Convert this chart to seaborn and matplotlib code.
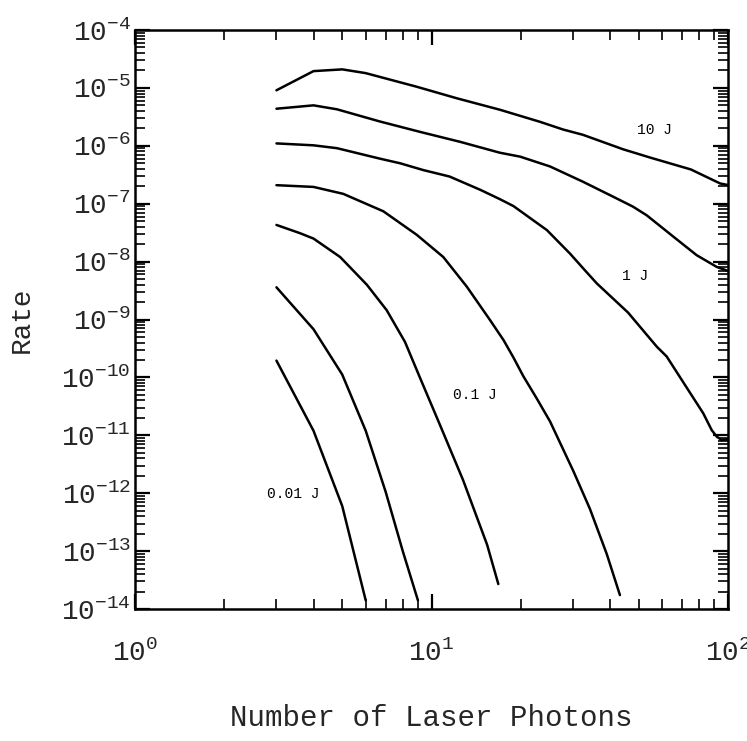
import pandas as pd
import numpy as np
import seaborn as sns
import matplotlib.pyplot as plt
from matplotlib.ticker import LogLocator, LogFormatterMathtext, NullFormatter

# curves, top to bottom (x = number of laser photons, y = rate)
x_c1 = [3, 4, 5, 6, 8.9, 12.2, 17, 23.2, 27.8, 32.4, 44.3, 55, 75, 94, 100]
y_c1 = [9.1e-6, 1.95e-5, 2.09e-5, 1.80e-5, 1.05e-5, 6.6e-6, 4.2e-6, 2.6e-6, 1.91e-6,
        1.55e-6, 8.7e-7, 6.2e-7, 3.9e-7, 2.24e-7, 2.1e-7]

x_c2 = [3, 4, 4.8, 6.7, 9.15, 12.5, 17, 19.9, 25.1, 32.4, 41, 47.8, 53.2, 65.4, 78.4, 91.6, 100]
y_c2 = [4.37e-6, 5.0e-6, 4.27e-6, 2.63e-6, 1.74e-6, 1.17e-6, 7.6e-7, 6.5e-7, 4.4e-7, 2.4e-7,
        1.32e-7, 8.9e-8, 6.3e-8, 2.7e-8, 1.29e-8, 8.1e-9, 6.9e-9]

x_c3 = [3, 4, 4.8, 6.7, 7.83, 9.4, 11.5, 14.6, 17, 18.9, 22, 24.5, 29.3, 32.9, 36.1, 46,
        57.5, 62.1, 74.5, 82.5, 88.1, 91.6, 95.2, 100]
y_c3 = [1.10e-6, 1.02e-6, 9.1e-7, 6.0e-7, 5.0e-7, 3.8e-7, 2.95e-7, 1.74e-7, 1.20e-7, 9.1e-8,
        5.2e-8, 3.5e-8, 1.38e-8, 7.1e-9, 4.2e-9, 1.32e-9, 3.4e-10, 2.3e-10, 5.4e-11, 2.4e-11,
        1.23e-11, 9.5e-12, 8.3e-12, 8.5e-12]

x_c4 = [3, 4, 5.04, 6.88, 8.92, 10.96, 13.15, 15.75, 17.5, 18.9, 20.4, 22.6, 25.1, 30.1, 34.2, 39, 43.2]
y_c4 = [2.09e-7, 1.95e-7, 1.48e-7, 7.4e-8, 2.9e-8, 1.20e-8, 3.7e-9, 9.8e-10, 4.4e-10, 2.2e-10,
        1.05e-10, 4.4e-11, 1.74e-11, 2.4e-12, 5.4e-13, 8.9e-14, 1.74e-14]

x_c5 = [3, 3.6, 4, 4.92, 6.05, 7.06, 8.14, 9.15, 10.68, 12.77, 15.4, 16.8]
y_c5 = [4.3e-8, 3.1e-8, 2.5e-8, 1.20e-8, 4.0e-9, 1.45e-9, 4.1e-10, 9.8e-11, 1.51e-11,
        1.70e-12, 1.29e-13, 2.7e-14]

x_c6 = [3, 4, 5, 6, 7, 8, 9]
y_c6 = [3.6e-9, 6.8e-10, 1.12e-10, 1.20e-11, 1.07e-12, 1.0e-13, 1.41e-14]

x_c7 = [3, 4, 5, 6]
y_c7 = [1.95e-10, 1.20e-11, 6.0e-13, 1.41e-14]

labels = ['10 J', '1 J', '0.1 J', '0.01 J']
label_x = [56.7, 48.6, 14.0, 3.41]
label_y = [1.87e-6, 5.6e-9, 5.0e-11, 9.8e-13]

curves = [(x_c1, y_c1), (x_c2, y_c2), (x_c3, y_c3), (x_c4, y_c4),
          (x_c5, y_c5), (x_c6, y_c6), (x_c7, y_c7)]
df = pd.concat([pd.DataFrame({'x': cx, 'y': cy, 'curve': i})
                for i, (cx, cy) in enumerate(curves)], ignore_index=True)

sns.set_theme(style='ticks')
plt.rcParams['font.family'] = ['Liberation Mono', 'DejaVu Sans']
plt.rcParams['mathtext.fontset'] = 'custom'
plt.rcParams['mathtext.rm'] = 'Liberation Mono'
plt.rcParams['mathtext.it'] = 'Liberation Mono'
plt.rcParams['mathtext.bf'] = 'Liberation Mono'
plt.rcParams['mathtext.default'] = 'regular'

fig = plt.figure(figsize=(7.47, 7.41), dpi=100)
ax = fig.add_axes([0.1807, 0.1781, 0.7939, 0.7814])
ax.set(xscale='log', yscale='log')

sns.lineplot(data=df, x='x', y='y', hue='curve', units='curve', estimator=None,
             palette=['black'] * 7, sort=False, legend=False, linewidth=1.8, ax=ax)

for t, tx, ty in zip(labels, label_x, label_y):
    ax.text(tx, ty, t, fontsize=10.5, ha='center', va='center', color='black')

ax.set_xlim(1, 100)
ax.set_ylim(1e-14, 1e-4)

ax.xaxis.set_major_locator(LogLocator(base=10, numticks=10))
ax.xaxis.set_minor_locator(LogLocator(base=10, subs=np.arange(2, 10), numticks=50))
ax.yaxis.set_major_locator(LogLocator(base=10, numticks=20))
ax.yaxis.set_minor_locator(LogLocator(base=10, subs=np.arange(2, 10), numticks=200))
ax.xaxis.set_major_formatter(LogFormatterMathtext())
ax.yaxis.set_major_formatter(LogFormatterMathtext())
ax.xaxis.set_minor_formatter(NullFormatter())
ax.yaxis.set_minor_formatter(NullFormatter())

ax.tick_params(which='both', direction='in', top=True, right=True, color='black')
ax.tick_params(which='major', length=11, width=1.6, labelsize=20)
ax.tick_params(axis='x', which='major', pad=22)
ax.tick_params(axis='y', which='major', pad=3)
ax.tick_params(which='minor', length=7, width=1.2)
for s in ax.spines.values():
    s.set_linewidth(1.8)
    s.set_color('black')

ax.set_xlabel('Number of Laser Photons', fontsize=21, labelpad=27)
ax.set_ylabel('Rate', fontsize=20, labelpad=19)

fig.savefig('out.png', dpi=100, facecolor='white')
